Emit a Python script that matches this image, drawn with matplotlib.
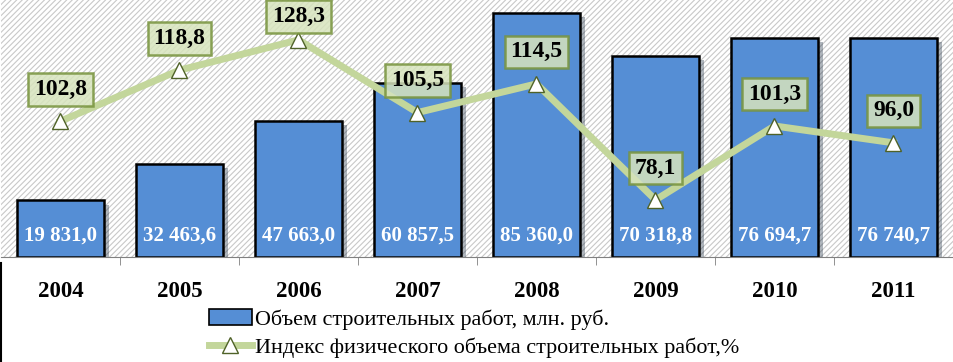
import matplotlib.pyplot as plt
import matplotlib.patheffects as pe
from matplotlib.patches import Rectangle, Patch
from matplotlib.lines import Line2D
import numpy as np

years = ['2004', '2005', '2006', '2007', '2008', '2009', '2010', '2011']
volume = [19831.0, 32463.6, 47663.0, 60857.5, 85360.0, 70318.8, 76694.7, 76740.7]
index = [102.8, 118.8, 128.3, 105.5, 114.5, 78.1, 101.3, 96.0]
vol_labels = ['19 831,0', '32 463,6', '47 663,0', '60 857,5', '85 360,0',
              '70 318,8', '76 694,7', '76 740,7']
idx_labels = ['102,8', '118,8', '128,3', '105,5', '114,5', '78,1', '101,3', '96,0']

plt.rcParams['font.family'] = 'Liberation Serif'
plt.rcParams['hatch.linewidth'] = 0.8
plt.rcParams['hatch.color'] = '#c8c8c8'

fig = plt.figure(figsize=(9.54, 3.62), dpi=100)
ax = fig.add_axes([1/954, 1-257/362, 952/954, 257/362])
x = np.arange(len(years))

# hatched background
ax.add_patch(Rectangle((0, 0), 1, 1, transform=ax.transAxes, facecolor='white',
                       edgecolor='#c8c8c8', hatch='//////', lw=0, zorder=0))

bars = ax.bar(x, volume, width=0.73, color='#558ed5', edgecolor='black', lw=1.8, zorder=2)
for b in bars:
    b.set_path_effects([pe.SimplePatchShadow(offset=(4, -3), alpha=0.35), pe.Normal()])
for xi, lab in zip(x, vol_labels):
    ax.text(xi, 7600, lab, ha='center', va='center', color='white',
            fontsize=15, fontweight='bold', zorder=3)

ax.set_xlim(-0.5, len(years) - 0.5)
ax.set_ylim(0, 90000)
ax.set_yticks([])
for s in ['top', 'left', 'right']:
    ax.spines[s].set_visible(False)
ax.spines['bottom'].set_color('#808080')
ax.set_xticks(x)
ax.set_xticklabels(years, fontsize=16.5, fontweight='bold')
ax.tick_params(axis='x', which='major', length=0, pad=17)
ax.set_xticks(np.arange(0.5, len(years) - 1, 1), minor=True)
ax.tick_params(axis='x', which='minor', length=6, color='#808080')

ax2 = ax.twinx()
ax2.set_ylim(60.2, 140.8)
ax2.set_yticks([])
for s in ax2.spines.values():
    s.set_visible(False)
ax2.plot(x, index, color='#c3d69b', lw=5, marker='^', markersize=12,
         markerfacecolor='white', markeredgecolor='#4f6228', markeredgewidth=1, zorder=4)
for xi, yi, lab in zip(x, index, idx_labels):
    dy = 17 if yi > 125 else 23
    ax2.annotate(lab, (xi, yi), xytext=(0, dy), textcoords='offset points',
                 ha='center', va='center', fontsize=17, fontweight='bold',
                 bbox=dict(boxstyle='square,pad=0.25', facecolor='#d7e4bd', alpha=0.85,
                           edgecolor='#77933c', lw=1.8), zorder=5)

handles = [Patch(facecolor='#558ed5', edgecolor='black', lw=1.2),
           Line2D([], [], color='#c3d69b', lw=5, marker='^', markersize=11,
                  markerfacecolor='white', markeredgecolor='#4f6228')]
fig.legend(handles, ['Объем строительных работ, млн. руб.',
                     'Индекс физического объема строительных работ,%'],
           loc='upper left', bbox_to_anchor=(200/954, 1-300/362), frameon=False,
           fontsize=15.9, handlelength=1.95, handleheight=0.75, handletextpad=0.15,
           labelspacing=0.33, borderaxespad=0)

fig.add_artist(Line2D([1/954, 1/954], [0, 1-263/362], color='black', lw=1.5))

fig.savefig('out.png', dpi=100)
